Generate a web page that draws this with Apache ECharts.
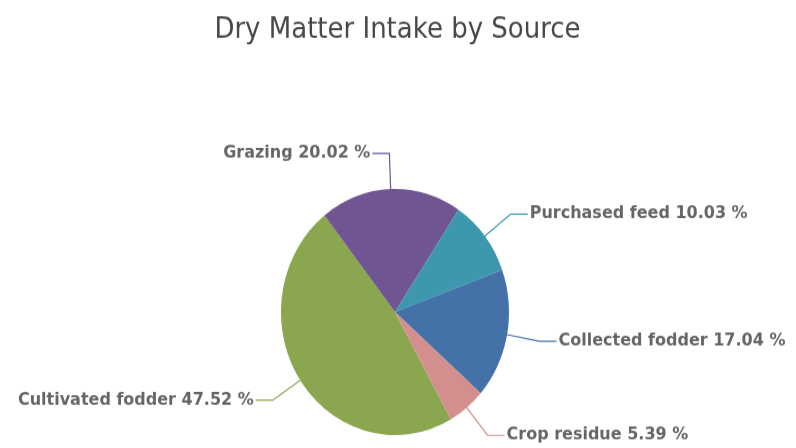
<!DOCTYPE html>
<html>
<head>
<meta charset="utf-8">
<title>Dry Matter Intake by Source</title>
<script src="https://cdn.jsdelivr.net/npm/echarts@6/dist/echarts.min.js"></script>
<style>
  html, body { margin: 0; padding: 0; background: #ffffff; overflow: hidden; }
  #wrap { width: 796px; height: 448px; overflow: hidden; }
  /* chart is laid out at 796x415 and stretched vertically to fill the page */
  #chart { width: 796px; height: 415px; transform: scaleY(1.0795); transform-origin: 0 0; }
</style>
</head>
<body>
<div id="wrap"><div id="chart"></div></div>
<script>
// Share of dry matter intake (%) by feed source
const sources = ['Cultivated fodder', 'Grazing', 'Purchased feed', 'Collected fodder', 'Crop residue'];
const shares = [47.52, 20.02, 10.03, 17.04, 5.39];
const sliceColors = ['#8aa64e', '#6f5592', '#3e98ad', '#4472a8', '#d38f8d'];

const chart = echarts.init(document.getElementById('chart'), null, { renderer: 'canvas' });

chart.setOption({
  animation: false,
  backgroundColor: '#ffffff',
  title: {
    text: 'Dry Matter Intake by Source',
    left: 392.5,
    textAlign: 'center',
    top: 10,
    textStyle: {
      fontFamily: '"DejaVu Sans", sans-serif',
      fontSize: 26,
      fontWeight: 'normal',
      color: '#484848'
    }
  },
  series: [{
    type: 'pie',
    center: [395, 289],
    radius: 114,
    startAngle: 299.3,
    clockwise: true,
    avoidLabelOverlap: false,
    itemStyle: { borderWidth: 0 },
    label: {
      show: true,
      position: 'outside',
      formatter: '{b} {c} %',
      fontFamily: '"DejaVu Sans", sans-serif',
      fontSize: 16,
      fontWeight: 'bold',
      color: '#666666',
      distanceToLabelLine: 2
    },
    labelLine: {
      show: true,
      length: 33,
      length2: 17,
      smooth: false,
      lineStyle: { width: 1.2 }
    },
    emphasis: { disabled: true },
    data: sources.map((name, i) => ({
      name: name,
      value: shares[i],
      itemStyle: { color: sliceColors[i] }
    }))
  }]
});
</script>
</body>
</html>
